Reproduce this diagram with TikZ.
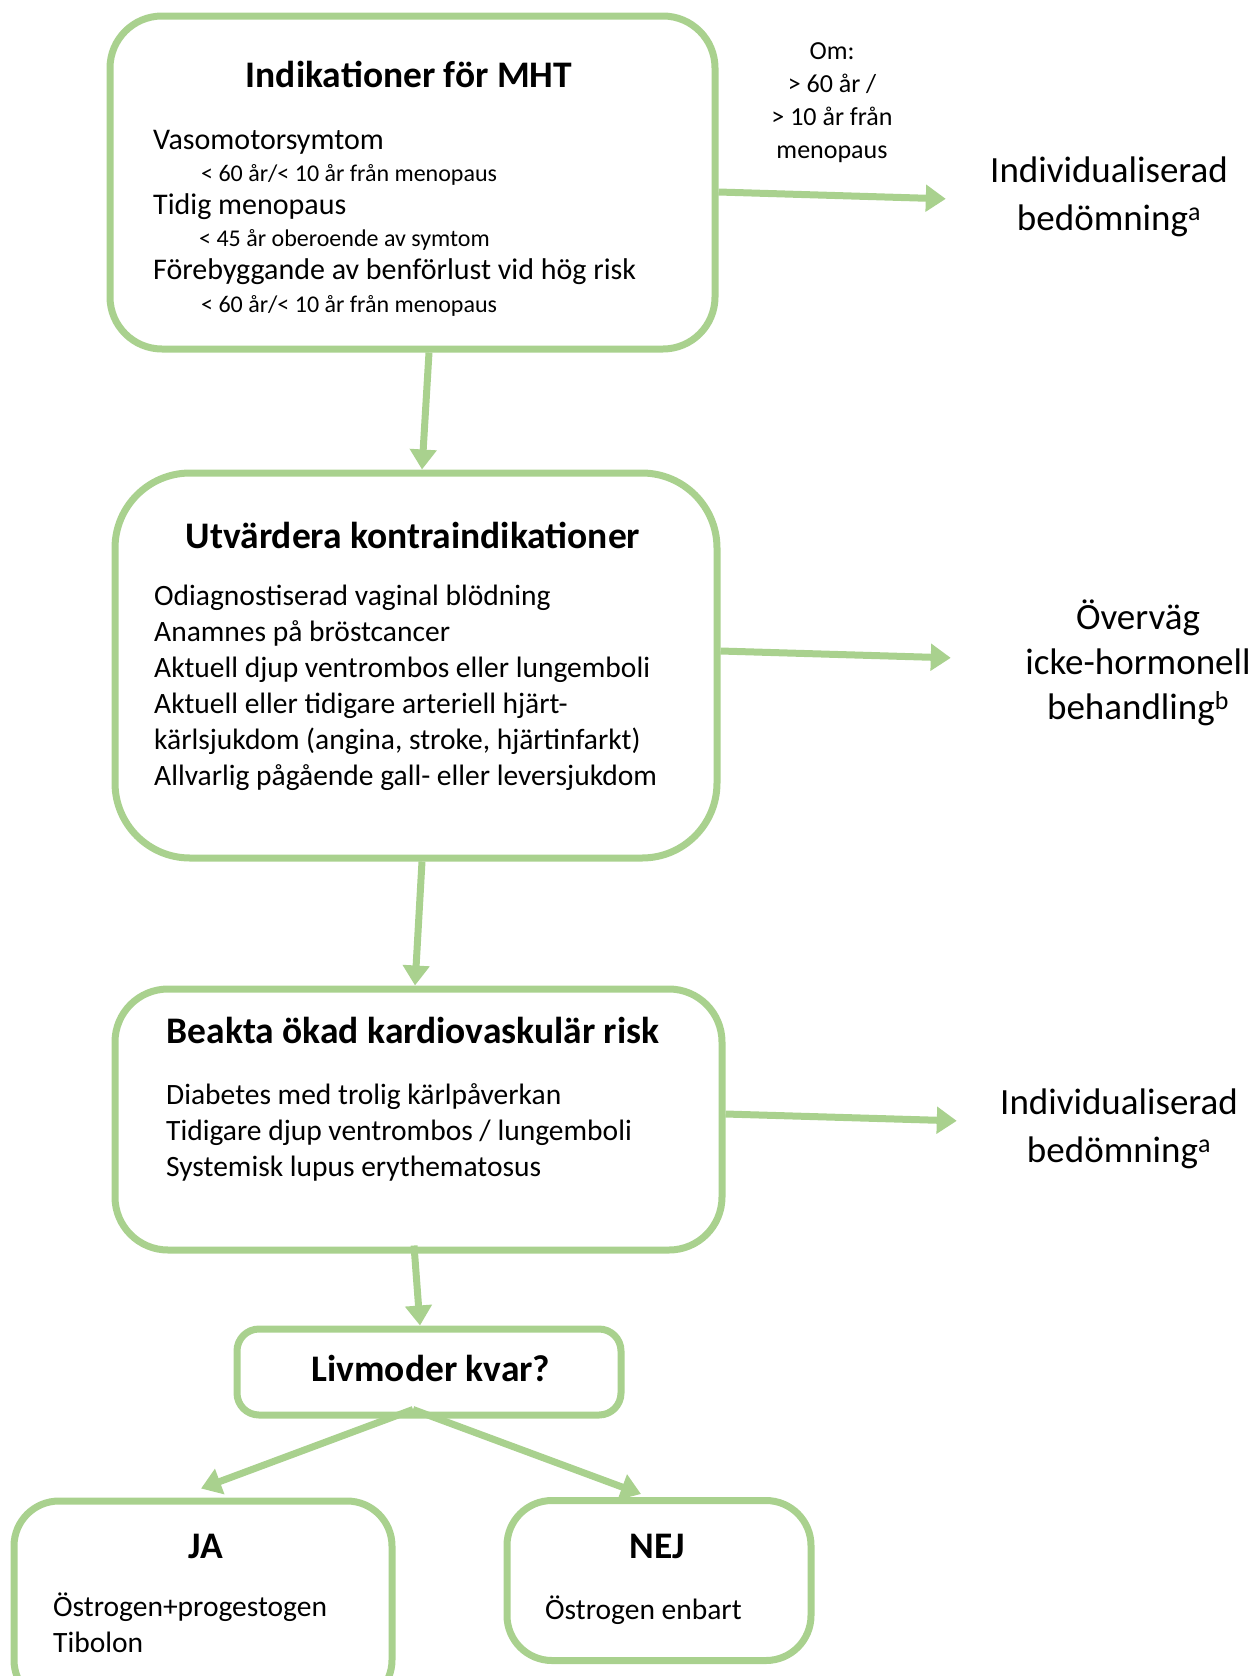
\documentclass[tikz,border=0pt]{standalone}
\usepackage{fontspec}
\setmainfont{Carlito}
\usetikzlibrary{arrows.meta}
\definecolor{mhtgreen}{HTML}{A9D18E}
\setlength{\lineskiplimit}{-50pt}
\tikzset{
	box/.style = {draw = mhtgreen, line width = 7pt, fill = white, rounded corners = #1, inner sep = 0pt},
	title/.style = {font = \fontsize{37.5}{44}\selectfont\bfseries, anchor = base, inner sep = 0pt},
	body/.style = {font = \fontsize{29.5}{36}\selectfont, anchor = base west, align = flush left, inner sep = 0pt, text width = #1},
	side/.style = {font = \fontsize{37}{48}\selectfont, anchor = base, align = flush center, inner sep = 0pt, text width = 300pt},
	arr/.style = {draw = mhtgreen, line width = 7pt, -{Triangle[length = 20pt, width = 26pt]}}
}
\begin{document}
\begin{tikzpicture}[x = 1pt, y = -1pt]
	\useasboundingbox (0,0) rectangle (1255,1676);
	\node[box = 52pt, minimum width = 605pt, minimum height = 333pt] (ind) at (412.5,182.5) {}; %indikationer
	\node[box = 75pt, minimum width = 602pt, minimum height = 385pt] (contra) at (416,665.5) {}; %kontraindikationer
	\node[box = 53pt, minimum width = 607pt, minimum height = 261pt] (kard) at (418.5,1119.5) {}; %kardiovaskular risk
	\node[box = 22pt, minimum width = 384pt, minimum height = 86pt] (liv) at (429,1372) {};
	\node[box = 45pt, minimum width = 378pt, minimum height = 204pt] (ja) at (203,1603) {};
	\node[box = 45pt, minimum width = 304pt, minimum height = 160pt] (nej) at (659,1580.5) {};

	\node[title] (indtitle) at (409,87) {Indikationer för MHT};
	\node[title] (contratitle) at (413,548) {Utvärdera kontraindikationer};
	\node[title] (kardtitle) at (413,1043) {Beakta ökad kardiovaskulär risk};
	\node[title] (livtitle) at (431,1381) {Livmoder kvar?};
	\node[title] (jatitle) at (206,1558) {JA};
	\node[title] (nejtitle) at (657,1558) {NEJ};

	\node[body = 540pt, font = \fontsize{30}{32.6}\selectfont] (indtext) at (153,149) {Vasomotorsymtom\\
		{\fontsize{24}{32.6}\selectfont\hspace*{48pt}< 60 år/< 10 år från menopaus}\\
		Tidig menopaus\\
		{\fontsize{24}{32.6}\selectfont\hspace*{46pt}< 45 år oberoende av symtom}\\
		Förebyggande av benförlust vid hög risk\\
		{\fontsize{24}{32.6}\selectfont\hspace*{48pt}< 60 år/< 10 år från menopaus}};
	\node[body = 560pt] (contratext) at (154,605) {Odiagnostiserad vaginal blödning\\ Anamnes på bröstcancer\\ Aktuell djup ventrombos eller lungemboli\\ Aktuell eller tidigare arteriell hjärt-\\ kärlsjukdom (angina, stroke, hjärtinfarkt)\\ Allvarlig pågående gall- eller leversjukdom};
	\node[body = 540pt] (kardtext) at (166,1104) {Diabetes med trolig kärlpåverkan\\ Tidigare djup ventrombos / lungemboli\\ Systemisk lupus erythematosus};
	\node[body = 330pt] (jatext) at (53,1616) {Östrogen+progestogen\\ Tibolon};
	\node[body = 250pt] (nejtext) at (545,1619) {Östrogen enbart};

	\node[side, font = \fontsize{26}{33}\selectfont, text width = 200pt] (omtext) at (832,59) {Om:\\ > 60 år /\\ > 10 år från\\ menopaus};
	\node[side] (indiv1) at (1109,182) {Individualiserad\\ bedömning\textsuperscript{a}};
	\node[side, font = \fontsize{37}{45}\selectfont] (overvag) at (1138,629) {Överväg\\ icke-hormonell\\ behandling\textsuperscript{b}};
	\node[side] (indiv2) at (1119,1114) {Individualiserad\\ bedömning\textsuperscript{a}};

	\draw[arr] ([xshift = 16.5pt]ind.south) -- ([xshift = 6pt]contra.north);
	\draw[arr] ([xshift = 6pt]contra.south) -- ([xshift = -3.5pt]kard.north);
	\draw[arr] ([xshift = -4.5pt, yshift = 8pt]kard.south) -- ([xshift = -9pt]liv.north);
	\draw[arr] ([xshift = -16pt, yshift = 9pt]liv.south) -- ([xshift = -2pt, yshift = 9pt]ja.north); %ja
	\draw[arr] ([xshift = -16pt, yshift = 9pt]liv.south) -- ([xshift = -18pt, yshift = 3pt]nej.north); %nej

	\draw[arr] ([yshift = -9.5pt]ind.east) -- ([xshift = -13pt, yshift = -2.5pt]indiv1.west);
	\draw[arr] ([yshift = 14.5pt]contra.east) -- ([xshift = -37pt, yshift = 4.5pt]overvag.west);
	\draw[arr] ([yshift = 5.5pt]kard.east) -- ([xshift = -12pt, yshift = 7.5pt]indiv2.west);
\end{tikzpicture}
\end{document}
